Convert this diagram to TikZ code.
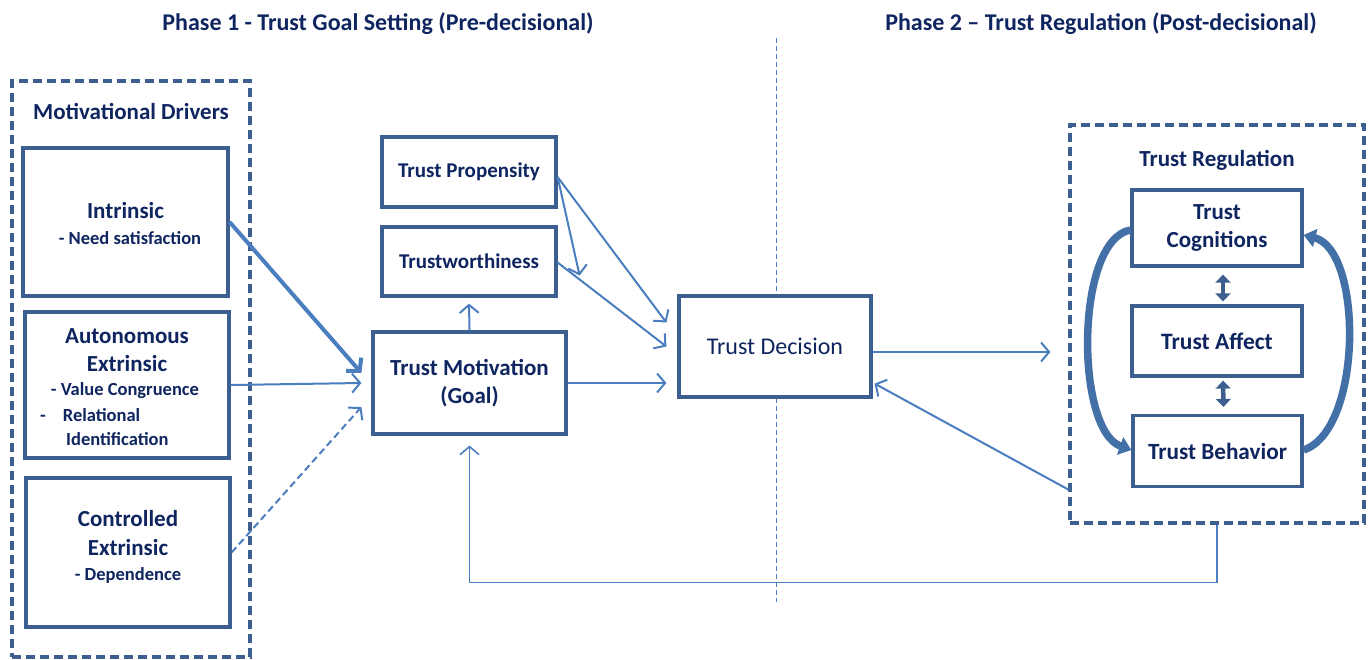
\documentclass[tikz,border=0pt]{standalone}
\usepackage{fontspec}
\setmainfont{Carlito}
\usetikzlibrary{arrows.meta,calc}
\definecolor{boxc}{HTML}{3D5F8F}
\definecolor{arrc}{HTML}{4A7EBE}
\definecolor{txtc}{HTML}{0F2560}
\definecolor{curvc}{HTML}{4470A8}
\tikzset{
  box/.style={draw=boxc, line width=3.2pt, fill=white, inner sep=0pt, text=txtc, align=center},
  grp/.style={draw=boxc, line width=3.2pt, dash pattern=on 9pt off 5pt, inner sep=0pt},
  lbl/.style={text=txtc, inner sep=0pt, font=\bfseries\fontsize{23}{28}\selectfont},
  sublbl/.style={text=txtc, inner sep=0pt, font=\bfseries\fontsize{18.5}{24}\selectfont},
  ttl/.style={text=txtc, inner sep=0pt, font=\bfseries\fontsize{24}{28}\selectfont},
  arr/.style={draw=arrc, line width=2pt, -{Straight Barb[length=8pt,width=19pt]}},
  dbl/.style={draw=boxc, line width=4.5pt, {Triangle[length=8pt,width=15pt]}-{Triangle[length=8pt,width=15pt]}},
  curv/.style={draw=curvc, line width=7.5pt, -{Triangle[length=12pt,width=18pt]}},
}
\begin{document}
\begin{tikzpicture}[x=1pt,y=-1pt]
\useasboundingbox (0,0) rectangle (1371,659);
% titles
\node[ttl] (ph1) at (378,24) {Phase 1 - Trust Goal Setting (Pre-decisional)};
\node[ttl] (ph2) at (1101,24) {Phase 2 – Trust Regulation (Post-decisional)};
% phase divider
\coordinate (divtop) at (776,38);
\coordinate (divbot) at (776,602);
\draw[arrc, line width=1pt, dash pattern=on 5pt off 3pt] (divtop) -- (divbot);
% groups
\node[grp, minimum width=238pt, minimum height=576pt] (mot) at (131,369) {};
\node[lbl] (motl) at (131,111) {Motivational Drivers};
\node[grp, minimum width=294pt, minimum height=398pt] (reg) at (1217,324) {};
\node[lbl] (regl) at (1217,160) {Trust Regulation};
% motivational driver boxes
\node[box, minimum width=205pt, minimum height=148pt] (intr) at (125.5,222) {};
\node[lbl] (intr1) at (125.5,211) {Intrinsic};
\node[sublbl] (intr2) at (130,238) {- Need satisfaction};
\node[box, minimum width=204pt, minimum height=146pt] (auto) at (127,385) {};
\node[lbl] (auto1) at (127,336) {Autonomous};
\node[lbl] (auto2) at (127,364) {Extrinsic};
\node[sublbl] (auto3) at (125,391) {- Value Congruence};
\node[sublbl, anchor=west] (auto4) at (40,415) {-\hspace{17pt}Relational};
\node[sublbl, anchor=west] (auto5) at (66,439) {Identification};
\node[box, minimum width=204pt, minimum height=149pt] (ctrl) at (128,552.5) {};
\node[lbl] (ctrl1) at (128,519) {Controlled};
\node[lbl] (ctrl2) at (128,548) {Extrinsic};
\node[sublbl] (ctrl3) at (128,575) {- Dependence};
% middle boxes
\node[box, minimum width=174pt, minimum height=70pt, font=\bfseries\fontsize{21}{24}\selectfont] (tp) at (469,172) {Trust Propensity};
\node[box, minimum width=174pt, minimum height=69pt, font=\bfseries\fontsize{21}{24}\selectfont] (tw) at (469,261.5) {Trustworthiness};
\node[box, minimum width=193pt, minimum height=102pt, font=\bfseries\fontsize{23}{28}\selectfont] (tm) at (469.5,383) {Trust Motivation\\(Goal)};
\node[box, minimum width=192pt, minimum height=101pt, font=\fontsize{24}{28}\selectfont] (td) at (775,346.5) {Trust Decision};
% regulation boxes
\node[box, minimum width=170pt, minimum height=76pt, font=\bfseries\fontsize{23}{28}\selectfont] (cog) at (1217,228) {Trust\\Cognitions};
\node[box, minimum width=170pt, minimum height=70pt, font=\bfseries\fontsize{23.5}{28}\selectfont] (aff) at (1217,341) {Trust Affect};
\node[box, minimum width=169pt, minimum height=71pt, font=\bfseries\fontsize{23.2}{28}\selectfont] (beh) at (1217.5,451) {Trust Behavior};
% connectors
\draw[arr, line width=4pt, -{Straight Barb[length=9pt,width=20pt]}] (intr.east) -- ([shift={(-10,-10)}]tm.west);
\draw[arr] (auto.east) -- ([xshift=-10pt]tm.west);
\draw[arr, dash pattern=on 7pt off 4pt] (ctrl.east) -- ([shift={(-10,24)}]tm.west);
\draw[arr] (tm.north) -- ([yshift=-6pt]tw.south);
\draw[arr] ([yshift=-5pt]tp.east) -- ([shift={(22,14)}]tw.east);
\draw[arr] ([yshift=-5pt]tp.east) -- ([shift={(-11,-24)}]td.west);
\draw[arr] ([yshift=-1pt]tw.east) -- ([xshift=-11pt]td.west);
\coordinate (tdin) at ([xshift=-11pt]td.west);
\draw[arr] (tm.east) -- (tm.east -| tdin);
\coordinate (regin) at ([xshift=-18pt]reg.west);
\draw[arr] ([yshift=-5.5pt]td.east) -- ([yshift=-5.5pt]td.east -| regin);
\draw[arr] ([yshift=35pt]reg.south west) -- ([shift={(2,-15)}]td.south east);
\draw[arr, line width=1.6pt] (reg.south) -- ++(0,58) -| ([yshift=-10pt]tm.south);
% regulation internal
\draw[dbl] ([xshift=6pt,yshift=-7pt]cog.south) -- ([xshift=6pt,yshift=3pt]aff.north);
\draw[dbl] ([xshift=6pt,yshift=-3pt]aff.south) -- ([xshift=6pt,yshift=7pt]beh.north);
\draw[curv] ([yshift=-2pt]cog.west) .. controls (1075,240) and (1075,430) .. ([yshift=1pt]beh.west);
\draw[curv] ([yshift=1pt]beh.east) .. controls (1363,430) and (1363,250) .. ([yshift=-7pt]cog.east);
\end{tikzpicture}
\end{document}
